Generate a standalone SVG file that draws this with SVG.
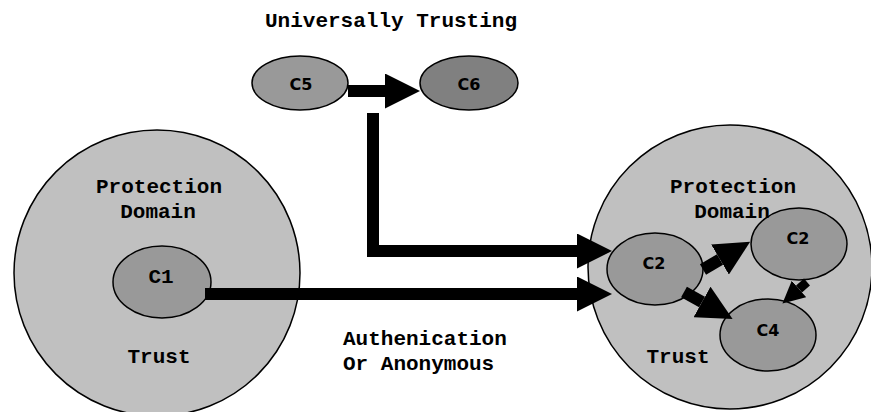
<svg xmlns="http://www.w3.org/2000/svg" width="871" height="412" viewBox="0 0 871 412">
  <style>
    .domain { fill: #c0c0c0; stroke: #000; stroke-width: 1.5; }
    .comp { fill: #999999; stroke: #000; stroke-width: 1.5; }
    .comp.dark { fill: #808080; }
    .mono { font-family: "Liberation Mono", "Courier New", monospace; font-weight: bold; font-size: 21px; text-anchor: middle; fill: #000; }
    .mono.left { text-anchor: start; }
    .sans { font-family: "DejaVu Sans", "Liberation Sans", sans-serif; font-weight: bold; font-size: 16px; text-anchor: middle; fill: #000; }
    .bar { fill: none; stroke: #000; stroke-width: 12; stroke-linecap: butt; stroke-linejoin: miter; }
    .bar.thin { stroke-width: 9; }
  </style>
  <defs>
    <marker id="head" viewBox="0 0 35 35" markerWidth="35" markerHeight="35" refX="0" refY="17.5" orient="auto" markerUnits="userSpaceOnUse">
      <path d="M0,0 L35,17.5 L0,35 Z" fill="#000"/>
    </marker>
    <marker id="head-small" viewBox="0 0 22 22" markerWidth="22" markerHeight="22" refX="0" refY="11" orient="auto" markerUnits="userSpaceOnUse">
      <path d="M0,0 L22,11 L0,22 Z" fill="#000"/>
    </marker>
  </defs>

  <!-- protection domains -->
  <g id="domain-left">
    <circle class="domain" cx="157" cy="273" r="143"/>
  </g>
  <g id="domain-right">
    <circle class="domain" cx="730" cy="267" r="142"/>
  </g>

  <!-- components -->
  <g id="c1">
    <ellipse class="comp" cx="162" cy="282" rx="49" ry="36"/>
    <text class="mono" x="161" y="283">C1</text>
  </g>
  <g id="c5">
    <ellipse class="comp" cx="300" cy="83" rx="48" ry="27"/>
    <text class="sans" x="301" y="90">C5</text>
  </g>
  <g id="c6">
    <ellipse class="comp dark" cx="469" cy="83" rx="49" ry="27"/>
    <text class="sans" x="469" y="90">C6</text>
  </g>
  <g id="c2-entry">
    <ellipse class="comp" cx="655" cy="269" rx="48" ry="36"/>
  </g>
  <g id="c2-peer">
    <ellipse class="comp" cx="799" cy="244" rx="48" ry="36"/>
  </g>
  <g id="c4">
    <ellipse class="comp" cx="768" cy="335" rx="48" ry="36"/>
  </g>

  <!-- connectors -->
  <g id="connectors">
    <path class="bar" d="M348,91 H385" marker-end="url(#head)"/>
    <path class="bar" d="M373,113 V251 H577" marker-end="url(#head)"/>
    <path class="bar" d="M205,294 H577" marker-end="url(#head)"/>
    <path class="bar" d="M703,269.5 L720,259.5" marker-end="url(#head)"/>
    <path class="bar" d="M684,292 L702,302" marker-end="url(#head)"/>
    <path class="bar thin" d="M807,282 L799,289" marker-end="url(#head-small)"/>
  </g>

  <!-- labels -->
  <text class="sans" x="654" y="269">C2</text>
  <text class="sans" x="798" y="244">C2</text>
  <text class="sans" x="768" y="336">C4</text>

  <text class="mono" x="391" y="27">Universally Trusting</text>

  <text class="mono" x="159" y="193">Protection</text>
  <text class="mono" x="158" y="218">Domain</text>
  <text class="mono" x="159" y="363">Trust</text>

  <text class="mono" x="733" y="193">Protection</text>
  <text class="mono" x="732" y="218">Domain</text>
  <text class="mono" x="678" y="363">Trust</text>

  <text class="mono left" x="343" y="345">Authenication</text>
  <text class="mono left" x="343" y="370">Or Anonymous</text>
</svg>
